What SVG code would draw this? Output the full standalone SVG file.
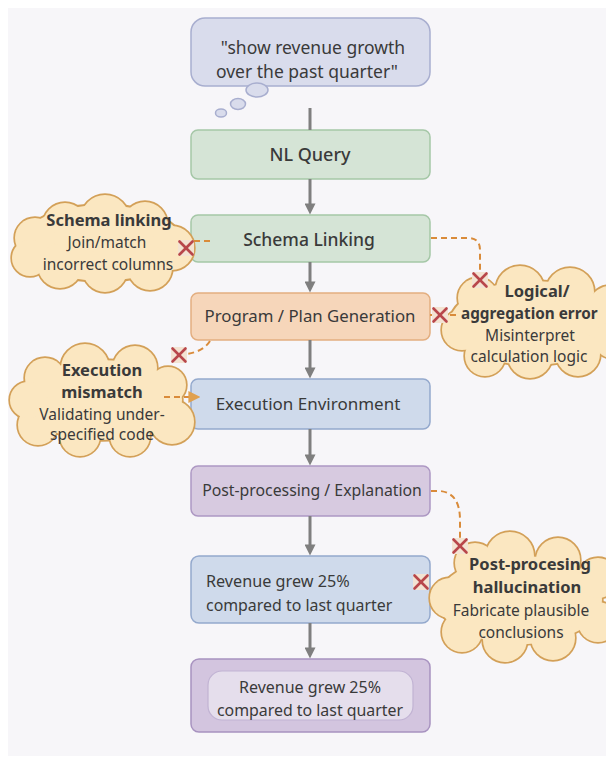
<svg xmlns="http://www.w3.org/2000/svg" xmlns:xlink="http://www.w3.org/1999/xlink" width="606" height="763" viewBox="0 0 606 763">
<style>
text { font-family: "Noto Sans", "Open Sans", "DejaVu Sans", sans-serif; fill: #3a3a3a; }
.c { text-anchor: middle; }
.med { font-weight: 500; }
.ttl { font-size: 16.5px; font-weight: 700; text-anchor: middle; }
.sub { font-size: 15.5px; text-anchor: middle; }
.box { stroke-width: 1.5; }
.green { fill: #d5e4d6; stroke: #a5c7a7; }
.orange { fill: #f6d6ba; stroke: #e3ae80; }
.blue { fill: #cfdaeb; stroke: #94a9cd; }
.purple { fill: #d7cae0; stroke: #ad98c3; }
.lav { fill: #d9dcec; stroke: #a8aecf; }
.cl-o { fill: #d3a058; stroke: #d3a058; stroke-width: 3.4; }
.cl-f { fill: #fbe7c1; stroke: none; }
.flow { stroke: #7f7f7f; stroke-width: 3; fill: none; }
.dash { stroke: #d98b3a; stroke-width: 2; fill: none; stroke-dasharray: 6 4; }
.xbg { fill: #f3e3d2; }
.xm { stroke: #b8474b; stroke-width: 2.6; stroke-linecap: round; }
</style>
<defs>
<marker id="ah" viewBox="0 0 10 10" refX="4" refY="5" markerWidth="12" markerHeight="11" markerUnits="userSpaceOnUse" orient="auto">
<path d="M0,0 L10,5 L0,10 z" fill="#7f7f7f"/>
</marker>
<marker id="ah-o" viewBox="0 0 10 10" refX="3" refY="5" markerWidth="12" markerHeight="12" markerUnits="userSpaceOnUse" orient="auto">
<path d="M0,0 L10,5 L0,10 z" fill="#e0a04f"/>
</marker>
<g id="cs1">
<ellipse cx="102" cy="243" rx="80" ry="38"/>
<circle cx="105" cy="219" r="24"/>
<circle cx="65" cy="225" r="22"/>
<circle cx="145" cy="224" r="22"/>
<circle cx="35" cy="238" r="20"/>
<circle cx="172" cy="248" r="22"/>
<circle cx="150" cy="268" r="22"/>
<circle cx="105" cy="270" r="22"/>
<circle cx="60" cy="266" r="22"/>
<circle cx="30" cy="258" r="18"/>
</g>
<g id="cs2">
<ellipse cx="532" cy="323" rx="82" ry="42"/>
<circle cx="478" cy="298" r="20"/>
<circle cx="520" cy="290" r="24"/>
<circle cx="570" cy="292" r="24"/>
<circle cx="610" cy="308" r="22"/>
<circle cx="462" cy="330" r="20"/>
<circle cx="485" cy="356" r="20"/>
<circle cx="530" cy="356" r="22"/>
<circle cx="578" cy="354" r="22"/>
<circle cx="612" cy="340" r="18"/>
</g>
<g id="cs3">
<ellipse cx="102" cy="400" rx="80" ry="40"/>
<circle cx="45" cy="378" r="20"/>
<circle cx="85" cy="368" r="24"/>
<circle cx="135" cy="368" r="22"/>
<circle cx="168" cy="385" r="18"/>
<circle cx="172" cy="422" r="22"/>
<circle cx="130" cy="436" r="20"/>
<circle cx="80" cy="436" r="20"/>
<circle cx="38" cy="425" r="20"/>
<circle cx="28" cy="400" r="18"/>
</g>
<g id="cs4">
<ellipse cx="520" cy="600" rx="82" ry="44"/>
<circle cx="475" cy="563" r="20"/>
<circle cx="510" cy="556" r="24"/>
<circle cx="558" cy="560" r="22"/>
<circle cx="598" cy="578" r="20"/>
<circle cx="450" cy="598" r="20"/>
<circle cx="462" cy="632" r="20"/>
<circle cx="505" cy="640" r="22"/>
<circle cx="553" cy="638" r="22"/>
<circle cx="598" cy="622" r="20"/>
</g>
<g id="xmark">
<rect x="-8" y="-8" width="16" height="16" rx="3" class="xbg"/>
<line x1="-6.5" y1="-6.5" x2="6.5" y2="6.5" class="xm"/>
<line x1="6.5" y1="-6.5" x2="-6.5" y2="6.5" class="xm"/>
</g>
</defs>

<rect x="0" y="0" width="606" height="763" fill="#ffffff"/>
<rect x="8" y="8" width="598" height="748" fill="#f7f6f9"/>

<g id="node-utterance">
<rect x="191" y="18" width="239" height="68" rx="14" class="box lav"/>
<ellipse cx="257" cy="90" rx="11" ry="7" class="box lav"/>
<ellipse cx="238" cy="104" rx="7.5" ry="5.5" class="box lav"/>
<ellipse cx="221" cy="113" rx="5.5" ry="4" class="box lav"/>
<text x="313" y="54" class="c" style="font-size:17.5px">"show revenue growth</text>
<text x="307" y="78" class="c" style="font-size:17.5px">over the past quarter"</text>
</g>

<g id="node-nlquery">
<rect x="191" y="130" width="239" height="49" rx="7" class="box green"/>
<text x="310" y="161" class="c med" style="font-size:18px">NL Query</text>
</g>

<g id="node-schema">
<rect x="191" y="215" width="239" height="47" rx="7" class="box green"/>
<text x="309" y="246" class="c med" style="font-size:17.5px">Schema Linking</text>
</g>

<g id="node-program">
<rect x="191" y="293" width="239" height="47" rx="7" class="box orange"/>
<text x="310" y="322" class="c" style="font-size:16.8px">Program / Plan Generation</text>
</g>

<g id="node-exec">
<rect x="191" y="379" width="239" height="50" rx="7" class="box blue"/>
<text x="308" y="410" class="c" style="font-size:17px">Execution Environment</text>
</g>

<g id="node-post">
<rect x="191" y="466" width="239" height="50" rx="7" class="box purple"/>
<text x="312" y="496" class="c" style="font-size:15.8px">Post-processing / Explanation</text>
</g>

<g id="node-result">
<rect x="191" y="556" width="239" height="67" rx="8" class="box blue"/>
<text x="206" y="587" style="font-size:16.2px">Revenue grew 25%</text>
<text x="206" y="611" style="font-size:15.9px">compared to last quarter</text>
</g>

<g id="node-final">
<rect x="191" y="659" width="239" height="73" rx="8" class="box" fill="#d3c5df" stroke="#a893c0"/>
<rect x="208" y="671" width="205" height="49" rx="14" fill="#e5deec" stroke="#c1b3d3" stroke-width="1.2"/>
<text x="310" y="693" class="c" style="font-size:16px">Revenue grew 25%</text>
<text x="310" y="716" class="c" style="font-size:15.9px">compared to last quarter</text>
</g>

<g id="cloud-schema-linking">
<use xlink:href="#cs1" class="cl-o"/>
<use xlink:href="#cs1" class="cl-f"/>
<text x="109" y="226" class="ttl">Schema linking</text>
<text x="107" y="248" class="sub">Join/match</text>
<text x="108" y="270" class="sub">incorrect columns</text>
</g>

<g id="cloud-logical">
<use xlink:href="#cs2" class="cl-o"/>
<use xlink:href="#cs2" class="cl-f"/>
<text x="537" y="297" class="ttl">Logical/</text>
<text x="461" y="319" class="ttl" style="text-anchor:start;font-size:15.3px">aggregation error</text>
<text x="530" y="341" class="sub">Misinterpret</text>
<text x="529" y="362" class="sub">calculation logic</text>
</g>

<g id="cloud-execution">
<use xlink:href="#cs3" class="cl-o"/>
<use xlink:href="#cs3" class="cl-f"/>
<text x="102" y="376" class="ttl">Execution</text>
<text x="102" y="398" class="ttl">mismatch</text>
<text x="102" y="420" class="sub">Validating under-</text>
<text x="102" y="440" class="sub">specified code</text>
</g>

<g id="cloud-hallucination">
<use xlink:href="#cs4" class="cl-o"/>
<use xlink:href="#cs4" class="cl-f"/>
<text x="530" y="570" class="ttl">Post-procesing</text>
<text x="527" y="593" class="ttl">hallucination</text>
<text x="521" y="616" class="sub">Fabricate plausible</text>
<text x="521" y="638" class="sub">conclusions</text>
</g>

<g id="connectors">
<line x1="310" y1="108" x2="310" y2="130" class="flow"/>
<line x1="310" y1="179" x2="310" y2="208" class="flow" marker-end="url(#ah)"/>
<line x1="310" y1="262" x2="310" y2="286" class="flow" marker-end="url(#ah)"/>
<line x1="310" y1="340" x2="310" y2="372" class="flow" marker-end="url(#ah)"/>
<line x1="310" y1="429" x2="310" y2="459" class="flow" marker-end="url(#ah)"/>
<line x1="310" y1="516" x2="310" y2="549" class="flow" marker-end="url(#ah)"/>
<line x1="310" y1="623" x2="310" y2="652" class="flow" marker-end="url(#ah)"/>
<path d="M194,241 L214,241" class="dash"/>
<path d="M431,238 L468,238 Q480,238 480,250 L480,272" class="dash"/>
<path d="M430,315 L456,315" class="dash"/>
<path d="M210,341 Q203,352 186,354" class="dash"/>
<path d="M164,397 L192,397" class="dash" marker-end="url(#ah-o)"/>
<path d="M431,491 L440,491 Q460,493 460,520 L460,538" class="dash"/>
</g>

<g id="failure-marks">
<use xlink:href="#xmark" x="186" y="248"/>
<use xlink:href="#xmark" x="480" y="280"/>
<use xlink:href="#xmark" x="440" y="315"/>
<use xlink:href="#xmark" x="179" y="355"/>
<use xlink:href="#xmark" x="460" y="546"/>
<use xlink:href="#xmark" x="421" y="582"/>
</g>
</svg>
